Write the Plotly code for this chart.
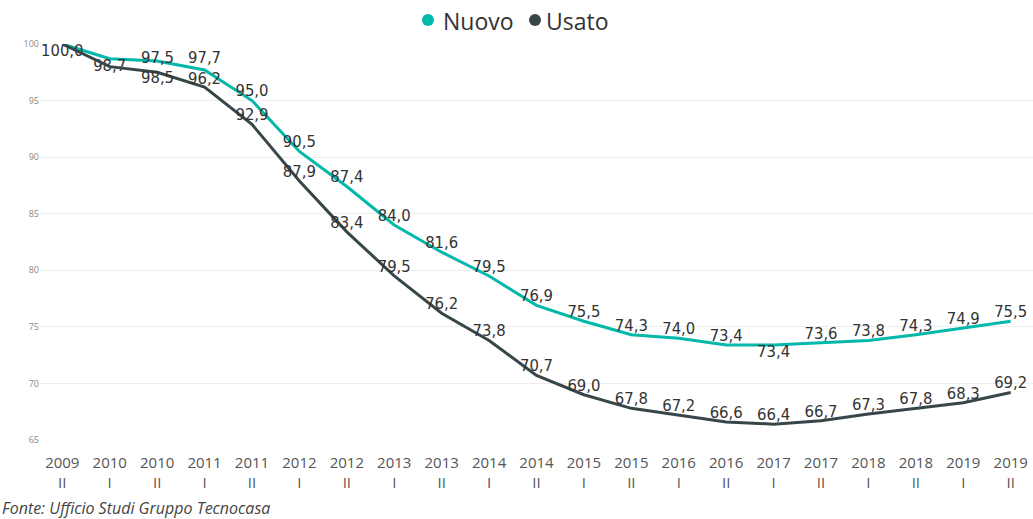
import plotly.graph_objects as go

periods = ["2009<br>II", "2010<br>I", "2010<br>II", "2011<br>I", "2011<br>II", "2012<br>I", "2012<br>II",
           "2013<br>I", "2013<br>II", "2014<br>I", "2014<br>II", "2015<br>I", "2015<br>II", "2016<br>I",
           "2016<br>II", "2017<br>I", "2017<br>II", "2018<br>I", "2018<br>II", "2019<br>I", "2019<br>II"]

nuovo = [100.0, 98.7, 98.5, 97.7, 95.0, 90.5, 87.4, 84.0, 81.6, 79.5, 76.9, 75.5, 74.3, 74.0,
         73.4, 73.4, 73.6, 73.8, 74.3, 74.9, 75.5]
usato = [100.0, 98.0, 97.5, 96.2, 92.9, 87.9, 83.4, 79.5, 76.2, 73.8, 70.7, 69.0, 67.8, 67.2,
         66.6, 66.4, 66.7, 67.3, 67.8, 68.3, 69.2]

series_names = ["Nuovo", "Usato"]
y_ticks = [65, 70, 75, 80, 85, 90, 95, 100]

TEAL = "#01B8AA"
DARK = "#374649"
LABEL_COLOR = "#333333"

n = len(periods)
nuovo_pos = ["top center"] * n
nuovo_pos[0] = "bottom center"
nuovo_pos[1] = "bottom center"
nuovo_pos[15] = "bottom center"
usato_pos = ["top center"] * n
nuovo_tpl = ["%{y:.1f}"] * n
usato_tpl = ["%{y:.1f}"] * n
usato_tpl[0] = ""
usato_tpl[1] = ""
# crowded labels at index 2 and 3 drawn as annotations (separated like the original)
for i in (2, 3):
    nuovo_tpl[i] = ""
    usato_tpl[i] = ""

label_font = dict(family="DejaVu Sans Condensed, Roboto, sans-serif", size=16.5, color=LABEL_COLOR)

fig = go.Figure()
fig.add_trace(go.Scatter(x=periods, y=nuovo, mode="lines+text", name=series_names[0],
                         line=dict(color=TEAL, width=3), texttemplate=nuovo_tpl,
                         textposition=nuovo_pos, textfont=label_font, showlegend=False,
                         cliponaxis=False, hoverinfo="skip"))
fig.add_trace(go.Scatter(x=periods, y=usato, mode="lines+text", name=series_names[1],
                         line=dict(color=DARK, width=3), texttemplate=usato_tpl,
                         textposition=usato_pos, textfont=label_font, showlegend=False,
                         cliponaxis=False, hoverinfo="skip"))

def fmt(v):
    return f"{v:.1f}".replace(".", ",")

crowded = [(2, usato, 15), (2, nuovo, -17), (3, nuovo, 13), (3, usato, 8)]
for i, series, shift in crowded:
    fig.add_annotation(x=periods[i], y=series[i], text=fmt(series[i]), showarrow=False,
                       yshift=shift, font=label_font)

# legend: dots as shapes + text annotations
legend_items = [(series_names[0], TEAL, 0.3907, 0.4038), (series_names[1], DARK, 0.4985, 0.5076)]
for name, col, xdot, xtxt in legend_items:
    fig.add_shape(type="circle", xref="paper", yref="paper", xsizemode="pixel", ysizemode="pixel",
                  xanchor=xdot, yanchor=1.0, x0=-6, x1=6, y0=18, y1=30,
                  fillcolor=col, line=dict(width=0))
    fig.add_annotation(text=name, xref="paper", yref="paper", x=xtxt, y=1.0, yshift=23,
                       xanchor="left", yanchor="middle", showarrow=False,
                       font=dict(size=23, color="#333333", family="Open Sans, sans-serif"))

fig.update_layout(
    width=1033, height=519,
    margin=dict(l=40, r=0, t=44, b=79),
    paper_bgcolor="white", plot_bgcolor="white",
    separators=",.",
    font=dict(family="Open Sans, sans-serif", color="#555555"),
    showlegend=False,
)
fig.update_xaxes(type="category", range=[-0.47, n - 1 + 0.47], showgrid=False, zeroline=False,
                 showline=False, ticks="", automargin=False, ticklabelstandoff=12,
                 tickfont=dict(size=15, color="#555555"))
fig.update_yaxes(range=[65, 100], tickvals=y_ticks, showgrid=True, gridcolor="#EDEDED",
                 gridwidth=1, zeroline=False, showline=False, ticks="", automargin=False,
                 tickfont=dict(size=9, color="#888888"))

fig.add_annotation(text="<i>Fonte: Ufficio Studi Gruppo Tecnocasa</i>", xref="paper", yref="paper",
                   x=-0.040, y=-0.138, xanchor="left", yanchor="top", showarrow=False,
                   font=dict(size=16, color="#444444", family="Open Sans, sans-serif"))

fig.write_html("out.html", config={"displayModeBar": False},
               post_script="document.body.style.margin='0';document.body.style.overflow='hidden';"
                           "document.documentElement.style.overflow='hidden';")
